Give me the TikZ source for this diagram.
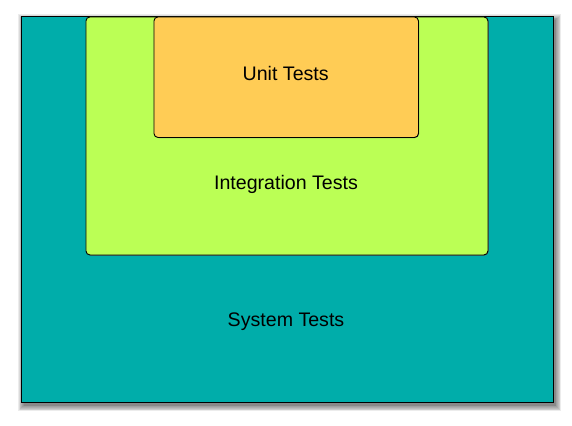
\documentclass[tikz,border=0pt]{standalone}
\usepackage{fontspec}
\setmainfont{Liberation Sans}
\definecolor{tealbg}{HTML}{00ADAA}
\definecolor{limebg}{HTML}{BBFF55}
\definecolor{orangebg}{HTML}{FFCC55}
\tikzset{
  layer/.style={draw=black, line width=0.9pt},
  inner/.style={layer, rounded corners=4pt},
  lbl/.style={font=\fontsize{19.6}{23}\selectfont, text=black},
}
\begin{document}
\begin{tikzpicture}[x=1pt,y=-1pt]
\useasboundingbox (0,0) rectangle (572,425);
% blurred shadow of outer rectangle
\foreach \i in {0,...,7}{
  \fill[black, opacity=0.075] (20.5+3-\i*0.8, 16+4-\i*0.8) rectangle (552.5+3+\i*0.8, 401.5+4+\i*0.8);
}
\node[layer, fill=tealbg, minimum width=532pt, minimum height=385.5pt, anchor=north west, inner sep=0pt] (sys) at (20.5,16) {};
% inner shadows
\fill[black!60, rounded corners=4pt] (86.5,17.5) rectangle (488.5,255.5);
\node[inner, fill=limebg, minimum width=402pt, minimum height=238pt, anchor=north west, inner sep=0pt] (integ) at (85.5,16.5) {};
\fill[black!60, rounded corners=4pt] (154.5,17.5) rectangle (419,138);
\node[inner, fill=orangebg, minimum width=264.5pt, minimum height=120.5pt, anchor=north west, inner sep=0pt] (unit) at (153.5,16.5) {};
\node[lbl] (tunit) at (285.7,73) {Unit Tests};
\node[lbl] (tinteg) at (286,184) {Integration Tests};
\node[lbl] (tsys) at (286,321.5) {System Tests};
\end{tikzpicture}
\end{document}
